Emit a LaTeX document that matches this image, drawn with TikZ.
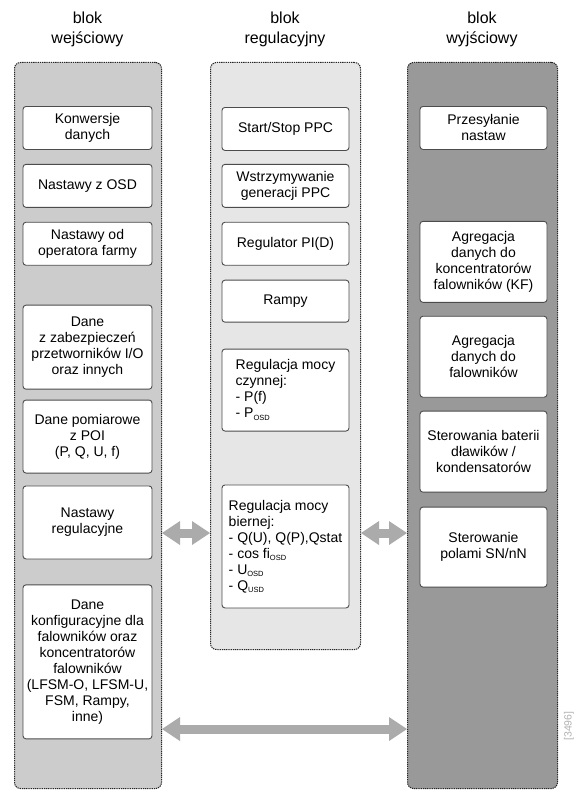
\documentclass[tikz,border=0pt]{standalone}
\usepackage{fontspec}
\setmainfont{Liberation Sans}
\usetikzlibrary{positioning, arrows.meta}
\definecolor{kolLewy}{HTML}{CCCCCC}
\definecolor{kolSrodek}{HTML}{E6E6E6}
\definecolor{kolPrawy}{HTML}{999999}
\definecolor{szaraStrzalka}{HTML}{ABABAB}
\newcommand{\dolny}[1]{\raisebox{-0.35ex}{\fontsize{7.5}{8}\selectfont #1}}

\begin{document}
\begin{tikzpicture}[
    font=\fontsize{14}{16}\selectfont,
    kolumna/.style={draw=black!85, line width=1pt, dash pattern=on 1.3pt off 0.9pt,
                    rounded corners=6pt, anchor=north west, inner sep=0pt},
    naglowek/.style={align=center, font=\fontsize{16}{20}\selectfont},
    blok/.style={draw=black!70, fill=white, line width=0.9pt, rounded corners=3pt,
                 align=center, inner sep=2pt, minimum width=127pt},
    blokL/.style={blok, minimum width=129pt},
    strzalka/.style={draw=szaraStrzalka, line width=9pt,
                     {Triangle[width=24pt,length=18pt,line width=0pt]}-{Triangle[width=24pt,length=18pt,line width=0pt]}}
  ]

    \fill[white] (0,0) rectangle (576pt,-800pt);
    \useasboundingbox (0,0) rectangle (576pt,-800pt);

    % --- Ramki kolumn ---
    \node[kolumna, fill=kolLewy, minimum width=147pt, minimum height=726pt] (lewy) at (14pt,-62pt) {};
    \node[kolumna, fill=kolSrodek, minimum width=150pt, minimum height=587pt] (srodek) at (210pt,-62pt) {};
    \node[kolumna, fill=kolPrawy, minimum width=150pt, minimum height=726pt] (prawy) at (407pt,-62pt) {};

    % --- Naglowki ---
    \node[naglowek] (nL) at (87.5pt,-29pt) {blok\\wejściowy};
    \node[naglowek] (nS) at (285pt,-29pt) {blok\\regulacyjny};
    \node[naglowek] (nP) at (482pt,-29pt) {blok\\wyjściowy};

    % --- Kolumna 1: blok wejsciowy ---
    \node[blokL, minimum height=43pt, anchor=north] (l1) at (87.5pt,-106pt) {Konwersje\\danych};
    \node[blokL, minimum height=43pt, below=14pt of l1] (l2) {Nastawy z OSD};
    \node[blokL, minimum height=43pt, below=14pt of l2] (l3) {Nastawy od\\operatora farmy};
    \node[blokL, minimum height=84pt, below=39pt of l3] (l4)
      {Dane\\z zabezpieczeń\\przetworników I/O\\oraz innych};
    \node[blokL, minimum height=73pt, below=10pt of l4] (l5) {Dane pomiarowe\\z POI\\(P, Q, U, f)};
    \node[blokL, minimum height=73pt, below=12pt of l5] (l6) {Nastawy\\regulacyjne};
    \node[blokL, minimum height=154pt, below=25pt of l6] (l7)
      {Dane\\konfiguracyjne dla\\falowników oraz\\koncentratorów\\falowników\\(LFSM-O, LFSM-U,\\FSM, Rampy,\\inne)};

    % --- Kolumna 2: blok regulacyjny ---
    \node[blok, minimum height=43pt, anchor=north] (s1) at (285.5pt,-107pt) {Start/Stop PPC};
    \node[blok, minimum height=43pt, below=13pt of s1] (s2) {Wstrzymywanie\\generacji PPC};
    \node[blok, minimum height=43pt, below=14pt of s2] (s3) {Regulator PI(D)};
    \node[blok, minimum height=42pt, below=14pt of s3] (s4) {Rampy};
    \node[blok, align=left, minimum height=82pt, below=26pt of s4] (s5)
      {Regulacja mocy\\czynnej:\\- P(f)\\- P\dolny{OSD}};
    \node[blok, align=left, minimum height=123pt, below=53pt of s5] (s6)
      {Regulacja mocy\\biernej:\\- Q(U), Q(P),Qstat\\- cos fi\dolny{OSD}\\- U\dolny{OSD}\\- Q\dolny{USD}};

    % --- Kolumna 3: blok wyjsciowy ---
    \node[blok, minimum height=43pt, anchor=north] (p1) at (483.5pt,-106pt) {Przesyłanie\\nastaw};
    \node[blok, minimum height=81pt, below=71pt of p1] (p2)
      {Agregacja\\danych do\\koncentratorów\\falowników (KF)};
    \node[blok, minimum height=81pt, below=13pt of p2] (p3) {Agregacja\\danych do\\falowników};
    \node[blok, minimum height=81pt, below=13pt of p3] (p4)
      {Sterowania baterii\\dławików /\\kondensatorów};
    \node[blok, minimum height=80pt, below=14pt of p4] (p5) {Sterowanie\\polami SN/nN};

    % --- Strzalki miedzy blokami ---
    \coordinate (poz1) at (0,-533pt);
    \coordinate (poz2) at (0,-729pt);
    \draw[strzalka] (lewy.east |- poz1) -- (srodek.west |- poz1);
    \draw[strzalka] (srodek.east |- poz1) -- (prawy.west |- poz1);
    \draw[strzalka] (lewy.east |- poz2) -- (prawy.west |- poz2);

    \node[rotate=90, text=black!30, font=\fontsize{10.5}{12}\selectfont] (numer) at (569pt,-726pt) {[3496]};

  \end{tikzpicture}
\end{document}
